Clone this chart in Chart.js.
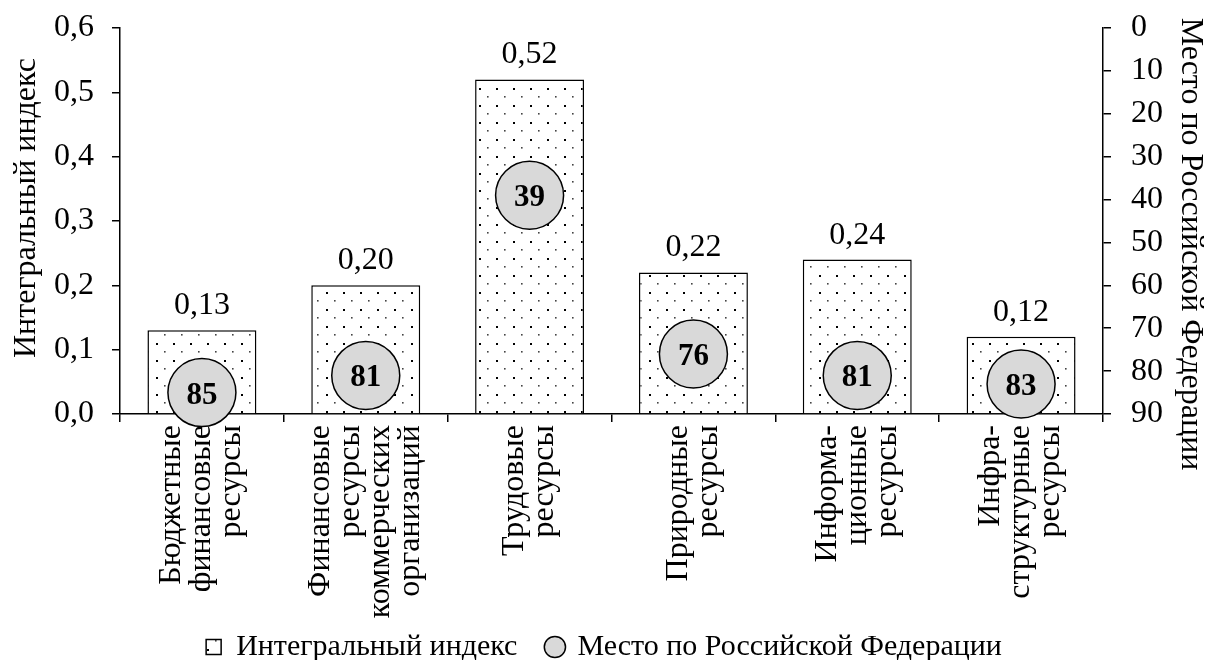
<!DOCTYPE html>
<html lang="ru">
<head>
<meta charset="UTF-8">
<title>Интегральный индекс и место по РФ</title>
<script src="https://cdn.jsdelivr.net/npm/chart.js"></script>
<style>
  body { margin: 0; background: #fff; }
</style>
</head>
<body>
<canvas id="chart" width="1208" height="660"></canvas>
<script>
// categories (line breaks as in the source figure)
var categories = [
  ['Бюджетные', 'финансовые', 'ресурсы'],
  ['Финансовые', 'ресурсы', 'коммерческих', 'организаций'],
  ['Трудовые', 'ресурсы'],
  ['Природные', 'ресурсы'],
  ['Информа-', 'ционные', 'ресурсы'],
  ['Инфра-', 'структурные', 'ресурсы']
];
var indexValues = [0.13, 0.20, 0.52, 0.22, 0.24, 0.12];
var rankValues = [85, 81, 39, 76, 81, 83];
var seriesNames = ['Интегральный индекс', 'Место по Российской Федерации'];

var FONT = '"Liberation Serif", "Times New Roman", serif';
Chart.defaults.font.family = FONT;
Chart.defaults.font.size = 32;
Chart.defaults.color = '#000';

// dotted fill like the original
function dotPattern() {
  var c = document.createElement('canvas');
  c.width = 17; c.height = 17;
  var g = c.getContext('2d');
  g.fillStyle = '#fff';
  g.fillRect(0, 0, 17, 17);
  g.fillStyle = '#000';
  g.fillRect(3, 3, 2, 2);
  g.fillStyle = '#444';
  g.fillRect(11, 11, 1.6, 1.6);
  return g.createPattern(c, 'repeat');
}

// fixed widths for the value axes, no extra top/bottom room
function fixWidth(w) {
  return function(s) {
    s.width = w;
    s.paddingTop = 0;
    s.paddingBottom = 0;
  };
}

var textPlugin = {
  id: 'texts',
  beforeDatasetsDraw: function(chart) {
    // category labels, rotated, lines centred on the category
    var ctx = chart.ctx;
    var x = chart.scales.x;
    ctx.save();
    ctx.fillStyle = '#000';
    ctx.font = '32px ' + FONT;
    ctx.textAlign = 'right';
    ctx.textBaseline = 'middle';
    categories.forEach(function(lines, i) {
      var cx = x.getPixelForValue(i);
      lines.forEach(function(line, j) {
        ctx.save();
        ctx.translate(cx + (j - (lines.length - 1) / 2) * 30, x.top + 11);
        ctx.rotate(-Math.PI / 2);
        ctx.fillText(line, 0, 0);
        ctx.restore();
      });
    });

    // axis titles
    var area = chart.chartArea;
    ctx.textAlign = 'center';
    ctx.save();
    ctx.translate(27, area.top + 180);
    ctx.rotate(-Math.PI / 2);
    ctx.fillText(seriesNames[0], 0, 0);
    ctx.restore();
    ctx.save();
    ctx.translate(1190, area.top + 216);
    ctx.rotate(Math.PI / 2);
    ctx.fillText(seriesNames[1], 0, 0);
    ctx.restore();
    ctx.restore();
  },
  afterDatasetsDraw: function(chart) {
    var ctx = chart.ctx;
    ctx.save();
    ctx.fillStyle = '#000';
    ctx.textAlign = 'center';
    ctx.textBaseline = 'alphabetic';
    ctx.font = '32px ' + FONT;
    chart.getDatasetMeta(0).data.forEach(function(bar, i) {
      ctx.fillText(indexValues[i].toFixed(2).replace('.', ','), bar.x, bar.y - 16);
    });
    ctx.font = 'bold 31px ' + FONT;
    chart.getDatasetMeta(1).data.forEach(function(pt, i) {
      ctx.fillText(String(rankValues[i]), pt.x, pt.y + 11);
    });
    ctx.restore();
  }
};

var ctx = document.getElementById('chart').getContext('2d');
var chart = new Chart(ctx, {
  data: {
    labels: categories,
    datasets: [{
      type: 'bar',
      label: seriesNames[0],
      data: indexValues,
      yAxisID: 'y',
      order: 1,
      backgroundColor: dotPattern(),
      borderColor: '#000',
      borderWidth: 1.5,
      barPercentage: 0.665,
      categoryPercentage: 1
    }, {
      type: 'line',
      label: seriesNames[1],
      data: rankValues,
      yAxisID: 'y1',
      order: 0,
      showLine: false,
      clip: false,
      backgroundColor: '#d9d9d9',
      borderColor: '#000',
      pointStyle: 'circle',
      pointRadius: 34,
      pointHoverRadius: 34,
      pointBackgroundColor: '#d9d9d9',
      pointBorderColor: '#000',
      pointBorderWidth: 1.5
    }]
  },
  options: {
    responsive: false,
    animation: false,
    layout: { autoPadding: false, padding: { top: 28, left: 0, right: 0, bottom: -12 } },
    plugins: {
      tooltip: { enabled: false },
      legend: {
        position: 'bottom',
        labels: {
          usePointStyle: true,
          boxWidth: 15,
          boxHeight: 15,
          padding: 30,
          font: { size: 30 },
          generateLabels: function(chart) {
            var items = Chart.defaults.plugins.legend.labels.generateLabels(chart);
            items.sort(function(a, b) { return a.datasetIndex - b.datasetIndex; });
            items[0].pointStyle = 'rect';
            items[1].pointStyle = 'circle';
            items.forEach(function(it) { it.strokeStyle = '#000'; it.lineWidth = 1.5; });
            return items;
          }
        }
      }
    },
    scales: {
      x: {
        ticks: { display: false },
        grid: { drawOnChartArea: false, color: '#000', lineWidth: 1.5, tickLength: 8 },
        border: { color: '#000', width: 1.5 },
        afterFit: function(s) { s.height = 188; }
      },
      y: {
        position: 'left',
        min: 0,
        max: 0.6,
        ticks: {
          stepSize: 0.1,
          padding: 18,
          callback: function(v) { return v.toFixed(1).replace('.', ','); }
        },
        grid: { drawOnChartArea: false, color: '#000', lineWidth: 1.5, tickLength: 8 },
        border: { color: '#000', width: 1.5 },
        afterFit: fixWidth(120)
      },
      y1: {
        position: 'right',
        reverse: true,
        min: 0,
        max: 90,
        ticks: { stepSize: 10, padding: 20 },
        grid: { drawOnChartArea: false, color: '#000', lineWidth: 1.5, tickLength: 8 },
        border: { color: '#000', width: 1.5 },
        afterFit: fixWidth(105)
      }
    }
  },
  plugins: [textPlugin]
});
</script>
</body>
</html>
